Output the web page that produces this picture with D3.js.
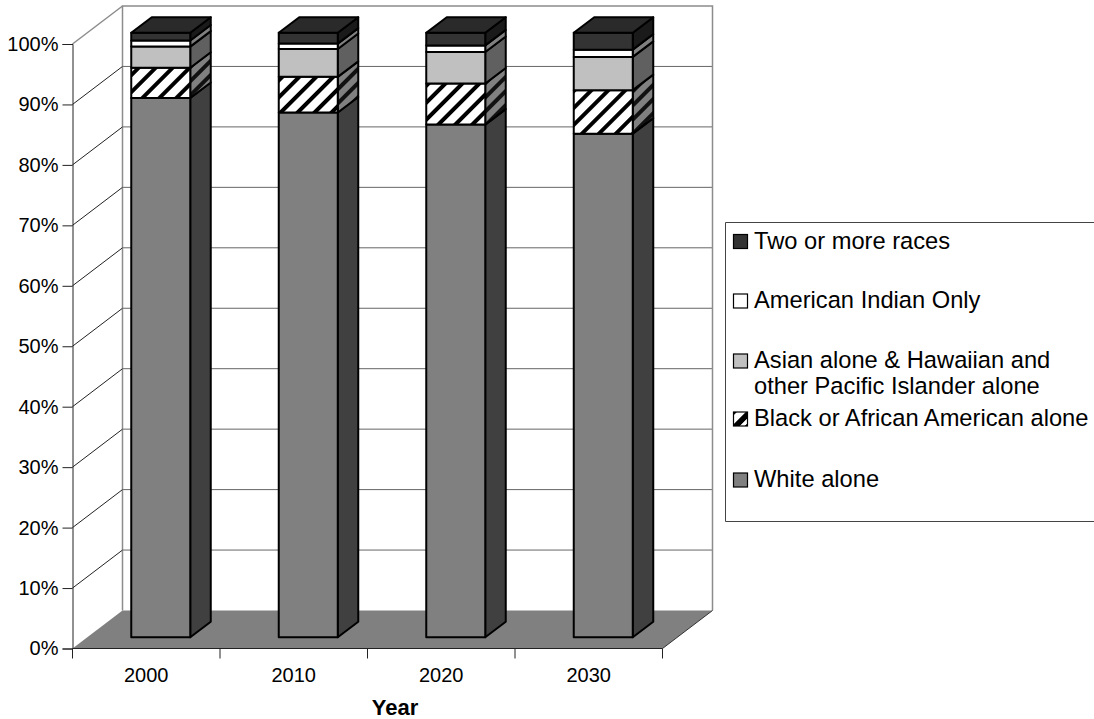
<!DOCTYPE html>
<html>
<head>
<meta charset="utf-8">
<script src="https://cdn.jsdelivr.net/npm/d3@7"></script>
<style>
html,body{margin:0;padding:0;background:#fff}
svg{display:block}
text{font-family:"Liberation Sans",Arial,sans-serif;fill:#000}
</style>
</head>
<body>
<svg id="chart" width="1094" height="719"></svg>
<script>
// Projected population share by race, stacked to 100% in a 3-D column chart.
const years = ["2000", "2010", "2020", "2030"];
const percentTicks = [0, 10, 20, 30, 40, 50, 60, 70, 80, 90, 100];
const whiteAlone = [89.2, 86.8, 84.8, 83.3];
const blackAlone = [5.0, 5.9, 6.8, 7.2];
const asianPacific = [3.5, 4.6, 5.2, 5.5];
const americanIndian = [1.0, 0.9, 1.1, 1.2];
const twoOrMore = [1.3, 1.8, 2.1, 2.8];
const seriesValues = [whiteAlone, blackAlone, asianPacific, americanIndian, twoOrMore];
const seriesKeys = ["white", "black", "asian", "indian", "two"];

// Legend runs top to bottom; each text line has its own baseline.
const legendEntries = [
  {key: "two", lines: ["Two or more races"], baselines: [248.5]},
  {key: "indian", lines: ["American Indian Only"], baselines: [308]},
  {key: "asian", lines: ["Asian alone & Hawaiian and", "other Pacific Islander alone"], baselines: [368, 394]},
  {key: "black", lines: ["Black or African American alone"], baselines: [426]},
  {key: "white", lines: ["White alone"], baselines: [487]}
];

const frontFill = {white: "#808080", black: "url(#hatchFront)", asian: "#c0c0c0", indian: "#ffffff", two: "#333333"};
const sideFill = {white: "#404040", black: "url(#hatchSide)", asian: "#606060", indian: "#808080", two: "#1a1a1a"};
const topFill = "#2a2a2a";

const svg = d3.select("#chart");

// Plot scales: x for the front floor edge, y for the front wall plane.
const x = d3.scaleBand().domain(years).range([72.5, 662.5]);
const y = d3.scaleLinear().domain([0, 100]).range([648.5, 44]);

// Oblique projection: offset of the back wall and of the columns.
const wallDx = 50, wallDy = -38;
const barPlaneDx = 14.5, barPlaneDy = -11.3;
const barDepthDx = 20.5, barDepthDy = -15.5;
const barWidth = 59;
const labelFont = 20;

const defs = svg.append("defs");
function hatch(id, bg, stripe, period, width) {
  const p = defs.append("pattern").attr("id", id).attr("patternUnits", "userSpaceOnUse")
    .attr("width", period).attr("height", period)
    .attr("patternTransform", "rotate(45)");
  p.append("rect").attr("width", period).attr("height", period).attr("fill", bg);
  p.append("rect").attr("width", width).attr("height", period).attr("fill", stripe);
}
hatch("hatchFront", "#ffffff", "#000000", 12, 4);
hatch("hatchSide", "#808080", "#111111", 10, 4);

const wallX0 = x.range()[0] + wallDx, wallX1 = x.range()[1] + wallDx;

// Floor
svg.append("polygon")
  .attr("points", [[x.range()[0], y(0)], [wallX0, y(0) + wallDy], [wallX1, y(0) + wallDy], [x.range()[1], y(0)]].join(" "))
  .attr("fill", "#808080");

// Back wall outline and its gridlines
svg.append("g").selectAll("line").data(percentTicks.slice(1, -1)).join("line")
  .attr("x1", wallX0).attr("x2", wallX1)
  .attr("y1", d => y(d) + wallDy).attr("y2", d => y(d) + wallDy)
  .attr("stroke", "#666").attr("stroke-width", 1);
svg.append("path")
  .attr("d", `M${wallX0},${y(0) + wallDy}V${y(100) + wallDy}H${wallX1}V${y(0) + wallDy}`)
  .attr("fill", "none").attr("stroke", "#8c8c8c").attr("stroke-width", 1.5);

// Side wall diagonals
svg.append("g").selectAll("line").data(percentTicks.slice(1)).join("line")
  .attr("x1", x.range()[0]).attr("x2", wallX0)
  .attr("y1", d => y(d)).attr("y2", d => y(d) + wallDy)
  .attr("stroke", d => d === 100 ? "#8c8c8c" : "#222").attr("stroke-width", d => d === 100 ? 1.5 : 1);

// Front edge of the right floor corner
svg.append("line")
  .attr("x1", x.range()[1]).attr("y1", y(0))
  .attr("x2", wallX1).attr("y2", y(0) + wallDy)
  .attr("stroke", "#333").attr("stroke-width", 1);

// Axes
const yAxis = d3.axisLeft(y).tickValues(percentTicks).tickFormat(d => d + "%").tickSize(10).tickPadding(4);
const gy = svg.append("g").attr("transform", `translate(${x.range()[0]},0)`).call(yAxis);
gy.selectAll("text").attr("font-size", labelFont).attr("font-family", '"Liberation Sans",Arial,sans-serif');
gy.selectAll("line,path").attr("stroke", "#222");

const gx = svg.append("g").attr("transform", `translate(0,${y(0)})`)
  .call(d3.axisBottom(x).tickSize(0).tickPadding(19));
gx.selectAll("text").attr("font-size", labelFont).attr("font-family", '"Liberation Sans",Arial,sans-serif');
gx.select("path").attr("stroke", "#222").attr("d", `M${x.range()[0]},0H${x.range()[1]}`);
gx.selectAll(".sep").data([...years.map(d => x(d)), x.range()[1]]).join("line").attr("class", "sep")
  .attr("x1", d => d).attr("x2", d => d).attr("y1", 0).attr("y2", 10).attr("stroke", "#222");

svg.append("text").attr("x", 395).attr("y", 715).attr("text-anchor", "middle")
  .attr("font-size", 22).attr("font-weight", "bold").text("Year");

// Stacked columns, bottom segment first
const stacked = d3.stack().keys(seriesKeys.map((_, i) => i))(years.map((_, j) => seriesValues.map(s => s[j])));
const barLeft = yr => x(yr) + (x.bandwidth() - barWidth) / 2 + barPlaneDx;
const plane = v => y(v) + barPlaneDy;

const bars = svg.append("g").attr("stroke", "#000").attr("stroke-width", 2).attr("stroke-linejoin", "round");
years.forEach((yr, j) => {
  const L = barLeft(yr), R = L + barWidth;
  const g = bars.append("g");
  stacked.forEach((layer, s) => {
    const key = seriesKeys[s];
    const y0 = plane(layer[j][0]), y1 = plane(layer[j][1]);
    g.append("polygon")
      .attr("points", [[R, y0], [R + barDepthDx, y0 + barDepthDy], [R + barDepthDx, y1 + barDepthDy], [R, y1]].join(" "))
      .attr("fill", sideFill[key]);
    g.append("rect").attr("x", L).attr("y", y1).attr("width", barWidth).attr("height", y0 - y1)
      .attr("fill", frontFill[key]);
  });
  const t = plane(stacked[stacked.length - 1][j][1]);
  g.append("polygon")
    .attr("points", [[L, t], [L + barDepthDx, t + barDepthDy], [R + barDepthDx, t + barDepthDy], [R, t]].join(" "))
    .attr("fill", topFill);
});

// Legend panel runs off the right edge
svg.append("path").attr("d", "M1094.5,222.5H725.5V521.5H1094.5")
  .attr("fill", "#fff").attr("stroke", "#444").attr("stroke-width", 1);

const swatchFill = {white: "#808080", black: "url(#legendHatch)", asian: "#c0c0c0", indian: "#ffffff", two: "#333333"};
// Miniature of the rising hatch used on the columns
const lg = defs.append("linearGradient").attr("id", "legendHatch")
  .attr("x1", 0).attr("y1", 0).attr("x2", 1).attr("y2", 1);
[[0, "#000"], [0.1, "#000"], [0.14, "#fff"], [0.42, "#fff"], [0.46, "#000"], [0.7, "#000"], [0.74, "#fff"], [0.88, "#fff"], [0.92, "#000"], [1, "#000"]].forEach(([o, c]) =>
  lg.append("stop").attr("offset", o).attr("stop-color", c));

const legend = svg.append("g").selectAll("g").data(legendEntries).join("g");
legend.append("rect")
  .attr("x", 733.5).attr("y", d => d.baselines[0] - 14).attr("width", 14).attr("height", 14)
  .attr("fill", d => swatchFill[d.key]).attr("stroke", "#000").attr("stroke-width", 1.2);
legend.each(function(d) {
  const sel = d3.select(this);
  d.lines.forEach((t, i) => {
    sel.append("text").attr("x", 754).attr("y", d.baselines[i]).attr("font-size", 23.7).text(t);
  });
});
</script>
</body>
</html>
